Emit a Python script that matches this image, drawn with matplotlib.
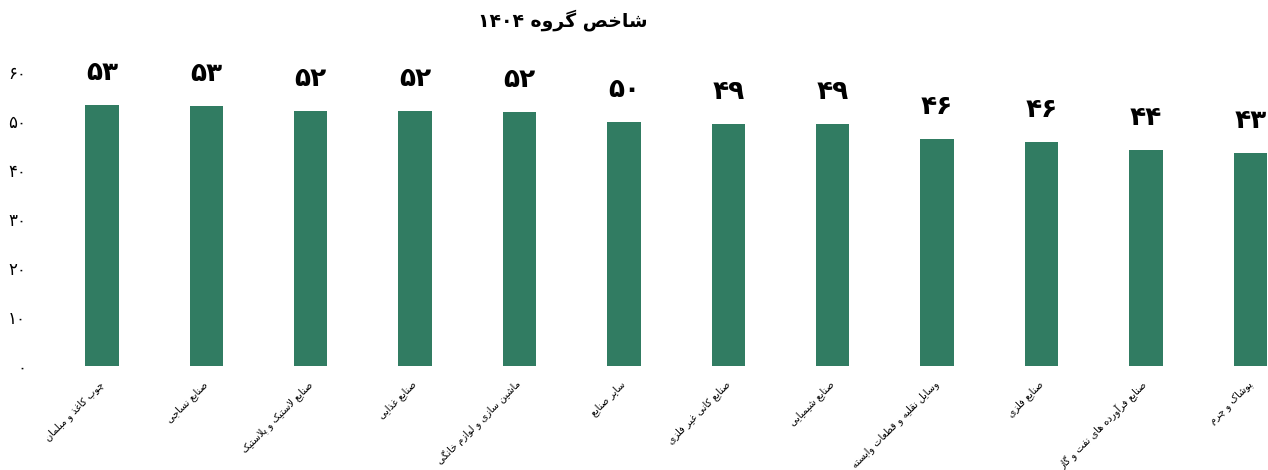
import re

import matplotlib
matplotlib.use("Agg")
import matplotlib.pyplot as plt


TITLE = "شاخص گروه ۱۴۰۴"
CATEGORIES = [
    "چوب کاغذ و مبلمان",
    "صنایع نساجی",
    "صنایع لاستیک و پلاستیک",
    "صنایع غذایی",
    "ماشین سازی و لوازم خانگی",
    "سایر صنایع",
    "صنایع کانی غیر فلزی",
    "صنایع شیمیایی",
    "وسایل نقلیه و قطعات وابسته",
    "صنایع فلزی",
    "صنایع فرآورده های نفت و گاز",
    "پوشاک و چرم",
]
VALUES = [53.3, 53.0, 52.1, 52.0, 51.8, 49.8, 49.4, 49.3, 46.4, 45.7, 44.1, 43.4]
Y_TICKS = [0, 10, 20, 30, 40, 50, 60]

BAR_COLOR = "#317c62"

# isolated, final, initial, medial (None -> letter does not join forward)
FORMS = {
    "ا": (0xFE8D, 0xFE8E, None, None),
    "آ": (0xFE81, 0xFE82, None, None),
    "ب": (0xFE8F, 0xFE90, 0xFE91, 0xFE92),
    "پ": (0xFB56, 0xFB57, 0xFB58, 0xFB59),
    "ت": (0xFE95, 0xFE96, 0xFE97, 0xFE98),
    "ث": (0xFE99, 0xFE9A, 0xFE9B, 0xFE9C),
    "ج": (0xFE9D, 0xFE9E, 0xFE9F, 0xFEA0),
    "چ": (0xFB7A, 0xFB7B, 0xFB7C, 0xFB7D),
    "ح": (0xFEA1, 0xFEA2, 0xFEA3, 0xFEA4),
    "خ": (0xFEA5, 0xFEA6, 0xFEA7, 0xFEA8),
    "د": (0xFEA9, 0xFEAA, None, None),
    "ذ": (0xFEAB, 0xFEAC, None, None),
    "ر": (0xFEAD, 0xFEAE, None, None),
    "ز": (0xFEAF, 0xFEB0, None, None),
    "ژ": (0xFB8A, 0xFB8B, None, None),
    "س": (0xFEB1, 0xFEB2, 0xFEB3, 0xFEB4),
    "ش": (0xFEB5, 0xFEB6, 0xFEB7, 0xFEB8),
    "ص": (0xFEB9, 0xFEBA, 0xFEBB, 0xFEBC),
    "ض": (0xFEBD, 0xFEBE, 0xFEBF, 0xFEC0),
    "ط": (0xFEC1, 0xFEC2, 0xFEC3, 0xFEC4),
    "ظ": (0xFEC5, 0xFEC6, 0xFEC7, 0xFEC8),
    "ع": (0xFEC9, 0xFECA, 0xFECB, 0xFECC),
    "غ": (0xFECD, 0xFECE, 0xFECF, 0xFED0),
    "ف": (0xFED1, 0xFED2, 0xFED3, 0xFED4),
    "ق": (0xFED5, 0xFED6, 0xFED7, 0xFED8),
    "ک": (0xFB8E, 0xFB8F, 0xFB90, 0xFB91),
    "گ": (0xFB92, 0xFB93, 0xFB94, 0xFB95),
    "ل": (0xFEDD, 0xFEDE, 0xFEDF, 0xFEE0),
    "م": (0xFEE1, 0xFEE2, 0xFEE3, 0xFEE4),
    "ن": (0xFEE5, 0xFEE6, 0xFEE7, 0xFEE8),
    "ه": (0xFEE9, 0xFEEA, 0xFEEB, 0xFEEC),
    "و": (0xFEED, 0xFEEE, None, None),
    "ی": (0xFBFC, 0xFBFD, 0xFBFE, 0xFBFF),
    "ئ": (0xFE89, 0xFE8A, 0xFE8B, 0xFE8C),
}
LAM_ALEF = {"ا": (0xFEFB, 0xFEFC), "آ": (0xFEF5, 0xFEF6)}

FA_DIGITS = str.maketrans("0123456789", "۰۱۲۳۴۵۶۷۸۹")


def joins_forward(ch):
    return ch in FORMS and FORMS[ch][2] is not None


def fa(text):
    # no bidi/shaping in matplotlib: build presentation forms and flip order
    chars = list(text)
    out = []
    i = 0
    while i < len(chars):
        c = chars[i]
        prev_joins = i > 0 and joins_forward(chars[i - 1])
        if c == "ل" and i + 1 < len(chars) and chars[i + 1] in LAM_ALEF:
            iso, fin = LAM_ALEF[chars[i + 1]]
            out.append(chr(fin if prev_joins else iso))
            i += 2
            continue
        if c not in FORMS:
            out.append(c)
            i += 1
            continue
        iso, fin, ini, med = FORMS[c]
        next_joins = ini is not None and i + 1 < len(chars) and chars[i + 1] in FORMS
        if prev_joins and next_joins:
            out.append(chr(med))
        elif prev_joins:
            out.append(chr(fin))
        elif next_joins:
            out.append(chr(ini))
        else:
            out.append(chr(iso))
        i += 1
    visual = "".join(out)[::-1]
    return re.sub(r"[۰-۹0-9]+", lambda m: m.group(0)[::-1], visual)


def main():
    plt.rcParams["font.family"] = ["DejaVu Sans"]

    fig = plt.figure(figsize=(12.68, 4.70), dpi=100)
    ax = fig.add_axes([40 / 1268, 104 / 470, 1228 / 1268, 294 / 470])

    x = list(range(len(VALUES)))
    ax.bar(x, VALUES, width=0.32, color=BAR_COLOR)

    for xi, v in zip(x, VALUES):
        ax.annotate(
            str(round(v)).translate(FA_DIGITS),
            (xi, v),
            xytext=(0, 23),
            textcoords="offset points",
            ha="center",
            va="center",
            fontsize=19,
            fontweight="bold",
        )

    ax.set_xlim(-0.594, 11.17)
    ax.set_ylim(0, 60)
    ax.set_yticks(Y_TICKS)
    ax.set_yticklabels([str(t).translate(FA_DIGITS) for t in Y_TICKS], fontsize=12)
    ax.set_xticks(x)
    ax.set_xticklabels(
        [fa(c) for c in CATEGORIES],
        rotation=45,
        ha="right",
        va="center",
        rotation_mode="anchor",
        fontsize=7,
    )
    ax.tick_params(axis="both", length=0)
    ax.tick_params(axis="x", pad=12)
    ax.tick_params(axis="y", pad=10)
    for spine in ax.spines.values():
        spine.set_visible(False)

    fig.text(563 / 1268, 1 - 20 / 470, fa(TITLE), ha="center", va="center",
             fontsize=13.5, fontweight="bold")

    fig.savefig("out.png", dpi=100)
    plt.close(fig)


if __name__ == "__main__":
    main()
